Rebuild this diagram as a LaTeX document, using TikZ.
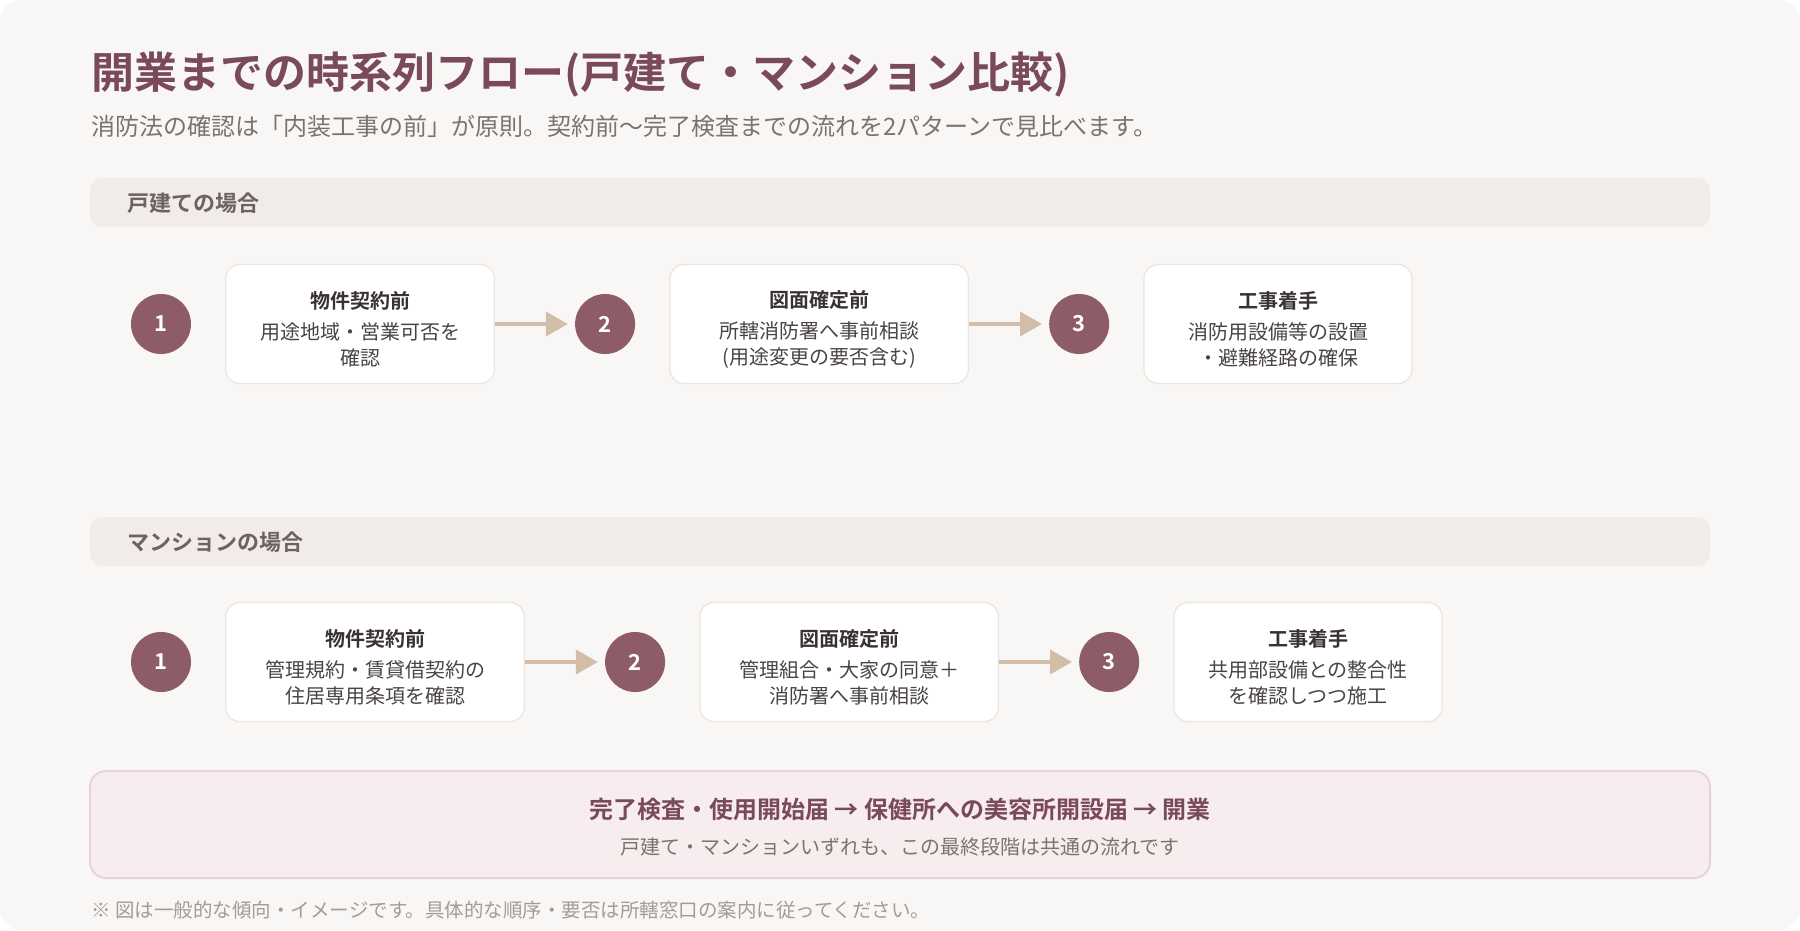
\documentclass[tikz,border=0pt]{standalone}
\usepackage{fontspec}
\setmainfont{Noto Sans CJK JP}
\newfontfamily\jpbold{Noto Sans CJK JP Bold}
\usepackage{xcolor}
\usetikzlibrary{arrows.meta,positioning}
\definecolor{cardbg}{HTML}{F9F7F5}
\definecolor{titlecol}{HTML}{7A4A5B}
\definecolor{subcol}{HTML}{7A7470}
\definecolor{barbg}{HTML}{F1ECE8}
\definecolor{barcol}{HTML}{6E6260}
\definecolor{numbg}{HTML}{8E5B68}
\definecolor{arrcol}{HTML}{D2BDA8}
\definecolor{boxline}{HTML}{ECE4DD}
\definecolor{boxhead}{HTML}{3A3232}
\definecolor{boxtext}{HTML}{4A4444}
\definecolor{endbg}{HTML}{F7EDEF}
\definecolor{endline}{HTML}{E9D3D8}
\definecolor{notecol}{HTML}{A39B97}
\tikzset{
  num/.style   ={circle, fill=numbg, text=white, minimum size=60pt, inner sep=0pt, font=\jpbold\fontsize{22}{22}\selectfont},
  stepbox/.style={draw=boxline, line width=1.2pt, fill=white, rounded corners=14pt, align=center, minimum height=119pt, inner sep=0pt, text=boxtext, font=\fontsize{20}{26}\selectfont},
  bar/.style   ={fill=barbg, rounded corners=12pt},
  bartxt/.style={anchor=west, text=barcol, font=\jpbold\fontsize{22}{22}\selectfont},
  arr/.style   ={-{Triangle[length=22pt,width=24pt]}, line width=4pt, draw=arrcol, shorten >=7pt},
}
\newcommand{\hd}[1]{\rule{0pt}{28pt}{\jpbold\color{boxhead}#1}\\[5pt]}
\begin{document}
\begin{tikzpicture}[x=1pt,y=-1pt, node distance=34pt]
  \useasboundingbox (0,0) rectangle (1800,930);
  \fill[white] (0,0) rectangle (1800,930);
  \fill[cardbg, rounded corners=22pt] (0,0) rectangle (1800,930);

  % title
  \node[anchor=west, text=titlecol, font=\jpbold\fontsize{43}{43}\selectfont] (title) at (88,75) {開業までの時系列フロー(戸建て・マンション比較)};
  \node[anchor=west, text=subcol, font=\fontsize{24}{24}\selectfont] (sub) at (88,126) {消防法の確認は「内装工事の前」が原則。契約前〜完了検査までの流れを2パターンで見比べます。};

  % 戸建て
  \fill[bar] (90,178) rectangle (1710,227);
  \node[bartxt] (h1) at (124,203) {戸建ての場合};
  \node[num] (a1) at (161,324) {1};
  \node[stepbox, minimum width=268.5pt, right=of a1] (p1) {\hd{物件契約前}用途地域・営業可否を\\確認};
  \node[num, right=80pt of p1] (a2) {2};
  \node[stepbox, minimum width=298.5pt, right=of a2] (p2) {\hd{図面確定前}所轄消防署へ事前相談\\(用途変更の要否含む)};
  \node[num, right=80pt of p2] (a3) {3};
  \node[stepbox, minimum width=268pt, right=of a3] (p3) {\hd{工事着手}消防用設備等の設置\\・避難経路の確保};
  \draw[arr] (p1) -- (a2);
  \draw[arr] (p2) -- (a3);

  % マンション
  \fill[bar] (90,517) rectangle (1710,566);
  \node[bartxt] (h2) at (124,542) {マンションの場合};
  \node[num] (m1) at (161,662) {1};
  \node[stepbox, minimum width=298.5pt, right=of m1] (q1) {\hd{物件契約前}管理規約・賃貸借契約の\\住居専用条項を確認};
  \node[num, right=80pt of q1] (m2) {2};
  \node[stepbox, minimum width=298.5pt, right=of m2] (q2) {\hd{図面確定前}管理組合・大家の同意＋\\消防署へ事前相談};
  \node[num, right=80pt of q2] (m3) {3};
  \node[stepbox, minimum width=268pt, right=of m3] (q3) {\hd{工事着手}共用部設備との整合性\\を確認しつつ施工};
  \draw[arr] (q1) -- (m2);
  \draw[arr] (q2) -- (m3);

  % 最終段階
  \draw[endline, fill=endbg, line width=2pt, rounded corners=16pt] (90,771) rectangle (1710,878);
  \node[text=titlecol, font=\jpbold\fontsize{24}{24}\selectfont] (fin) at (900,809) {完了検査・使用開始届 → 保健所への美容所開設届 → 開業};
  \node[text=subcol, font=\fontsize{20}{20}\selectfont] (fin2) at (900,847) {戸建て・マンションいずれも、この最終段階は共通の流れです};

  \node[anchor=west, text=notecol, font=\fontsize{19.5}{19.5}\selectfont] (note) at (88,910) {※ 図は一般的な傾向・イメージです。具体的な順序・要否は所轄窓口の案内に従ってください。};
\end{tikzpicture}
\end{document}
